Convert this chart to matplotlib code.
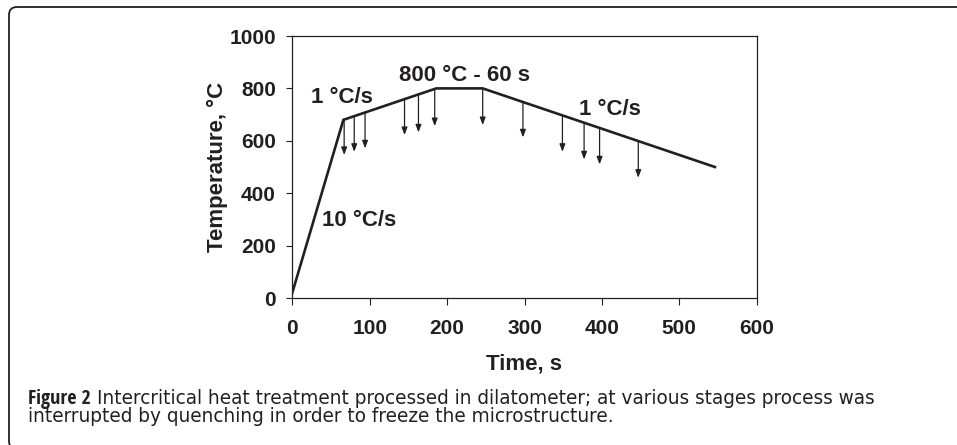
import matplotlib
matplotlib.use("Agg")
import matplotlib.pyplot as plt
from matplotlib import font_manager as fm
from matplotlib.patches import FancyBboxPatch
from matplotlib.transforms import IdentityTransform

# ---- data ----
cycle_time = [0, 66, 186, 246, 546]
cycle_temp = [20, 680, 800, 800, 500]

quench_time = [67, 80, 94, 145, 163, 184, 246, 298, 349, 377, 397, 447]
quench_start = [682, 694, 708, 759, 777, 798, 800, 748, 697, 669, 649, 599]
quench_end = [546, 558, 571, 622, 632, 656, 660, 613, 558, 529, 510, 459]

x_ticks = [0, 100, 200, 300, 400, 500, 600]
y_ticks = [0, 200, 400, 600, 800, 1000]

labels = [
    ("1 °C/s", 64, 767),
    ("800 °C - 60 s", 223, 851),
    ("1 °C/s", 410, 721),
    ("10 °C/s", 86, 296),
]

caption_bold = "Figure 2"
caption_line1 = "Intercritical heat treatment processed in dilatometer; at various stages process was"
caption_line2 = "interrupted by quenching in order to freeze the microstructure."

# ---- figure ----
W, H = 957, 445
fig = plt.figure(figsize=(W / 100, H / 100), dpi=100)
plt.rcParams['font.family'] = ['Liberation Sans', 'DejaVu Sans']
INK = "#231f20"

# outer frame (rounded, open to right/bottom beyond image), pixel coords
frame = FancyBboxPatch((9, -4), 1200, H - 7 + 4,
                       boxstyle="round,pad=0,rounding_size=8",
                       transform=IdentityTransform(), fill=False,
                       edgecolor=INK, linewidth=1.3, clip_on=False)
fig.patches.append(frame)

ax = fig.add_axes([292.3 / W, 147 / H, 464.4 / W, 262 / H])
ax.plot(cycle_time, cycle_temp, color=INK, lw=1.9, solid_joinstyle="miter")

for t, s, e in zip(quench_time, quench_start, quench_end):
    ax.annotate("", xy=(t, e), xytext=(t, s),
                arrowprops=dict(arrowstyle="-|>,head_length=0.45,head_width=0.17",
                                color=INK, lw=0.9, shrinkA=0, shrinkB=0))

for txt, x, y in labels:
    ax.text(x, y, txt, ha="center", va="center", fontsize=16,
            fontweight="bold", color=INK)

ax.set_xlim(0, 600)
ax.set_ylim(0, 1000)
ax.set_xticks(x_ticks)
ax.set_yticks(y_ticks)
ax.tick_params(axis="x", direction="out", length=5, width=0.8, labelsize=15, pad=10, colors=INK)
ax.tick_params(axis="y", direction="out", length=4.3, width=0.8, labelsize=15, pad=7.5, colors=INK)
for lab in ax.get_xticklabels() + ax.get_yticklabels():
    lab.set_fontweight("bold")
for sp in ax.spines.values():
    sp.set_linewidth(0.9)
    sp.set_color(INK)

ax.set_xlabel("Time, s", fontsize=16, fontweight="bold", labelpad=11, color=INK)
ax.set_ylabel("Temperature, °C", fontsize=16, fontweight="bold", labelpad=1, color=INK)

# caption fonts: a condensed bold face for the "Figure 2" lead if available
def find_face(pred):
    for f in fm.fontManager.ttflist:
        if pred(f):
            return f.fname
    return None

def is_bold(f):
    w = f.weight
    return (w == "bold") or (isinstance(w, int) and w >= 600)

cond_bold = find_face(lambda f: "Open Sans" in f.name and is_bold(f)
                      and str(f.stretch) in ("condensed", "semi-condensed", "75", "87.5")) \
    or find_face(lambda f: "Narrow" in f.name and is_bold(f))
bold_prop = fm.FontProperties(fname=cond_bold) if cond_bold else \
    fm.FontProperties(family="DejaVu Sans", weight="bold")

x0, x_end = 28, 876
base1, base2 = H - 404, H - 422
body_font = ['DejaVu Sans']
gap = 6

r = fig.canvas.get_renderer()
fs = 12.0
t1 = fig.text(x0 / W, base1 / H, caption_bold, fontproperties=bold_prop,
              color=INK, va="baseline", ha="left")
t2 = fig.text(0, base1 / H, caption_line1, fontsize=fs,
              family=body_font, color=INK, va="baseline", ha="left")
for _ in range(4):
    t1.set_fontsize(fs * 1.08)
    t2.set_fontsize(fs)
    b1 = t1.get_window_extent(r)
    t2.set_x((b1.x1 + gap) / W)
    w2 = t2.get_window_extent(r).width
    total = b1.x1 + gap + w2 - x0
    fs = fs * (x_end - x0) / total
t1.set_fontsize(fs * 1.08)
t2.set_fontsize(fs)
b1 = t1.get_window_extent(r)
t2.set_x((b1.x1 + gap) / W)
fig.text(x0 / W, base2 / H, caption_line2, fontsize=fs,
         family=body_font, color=INK, va="baseline", ha="left")

fig.savefig("out.png", dpi=100)
